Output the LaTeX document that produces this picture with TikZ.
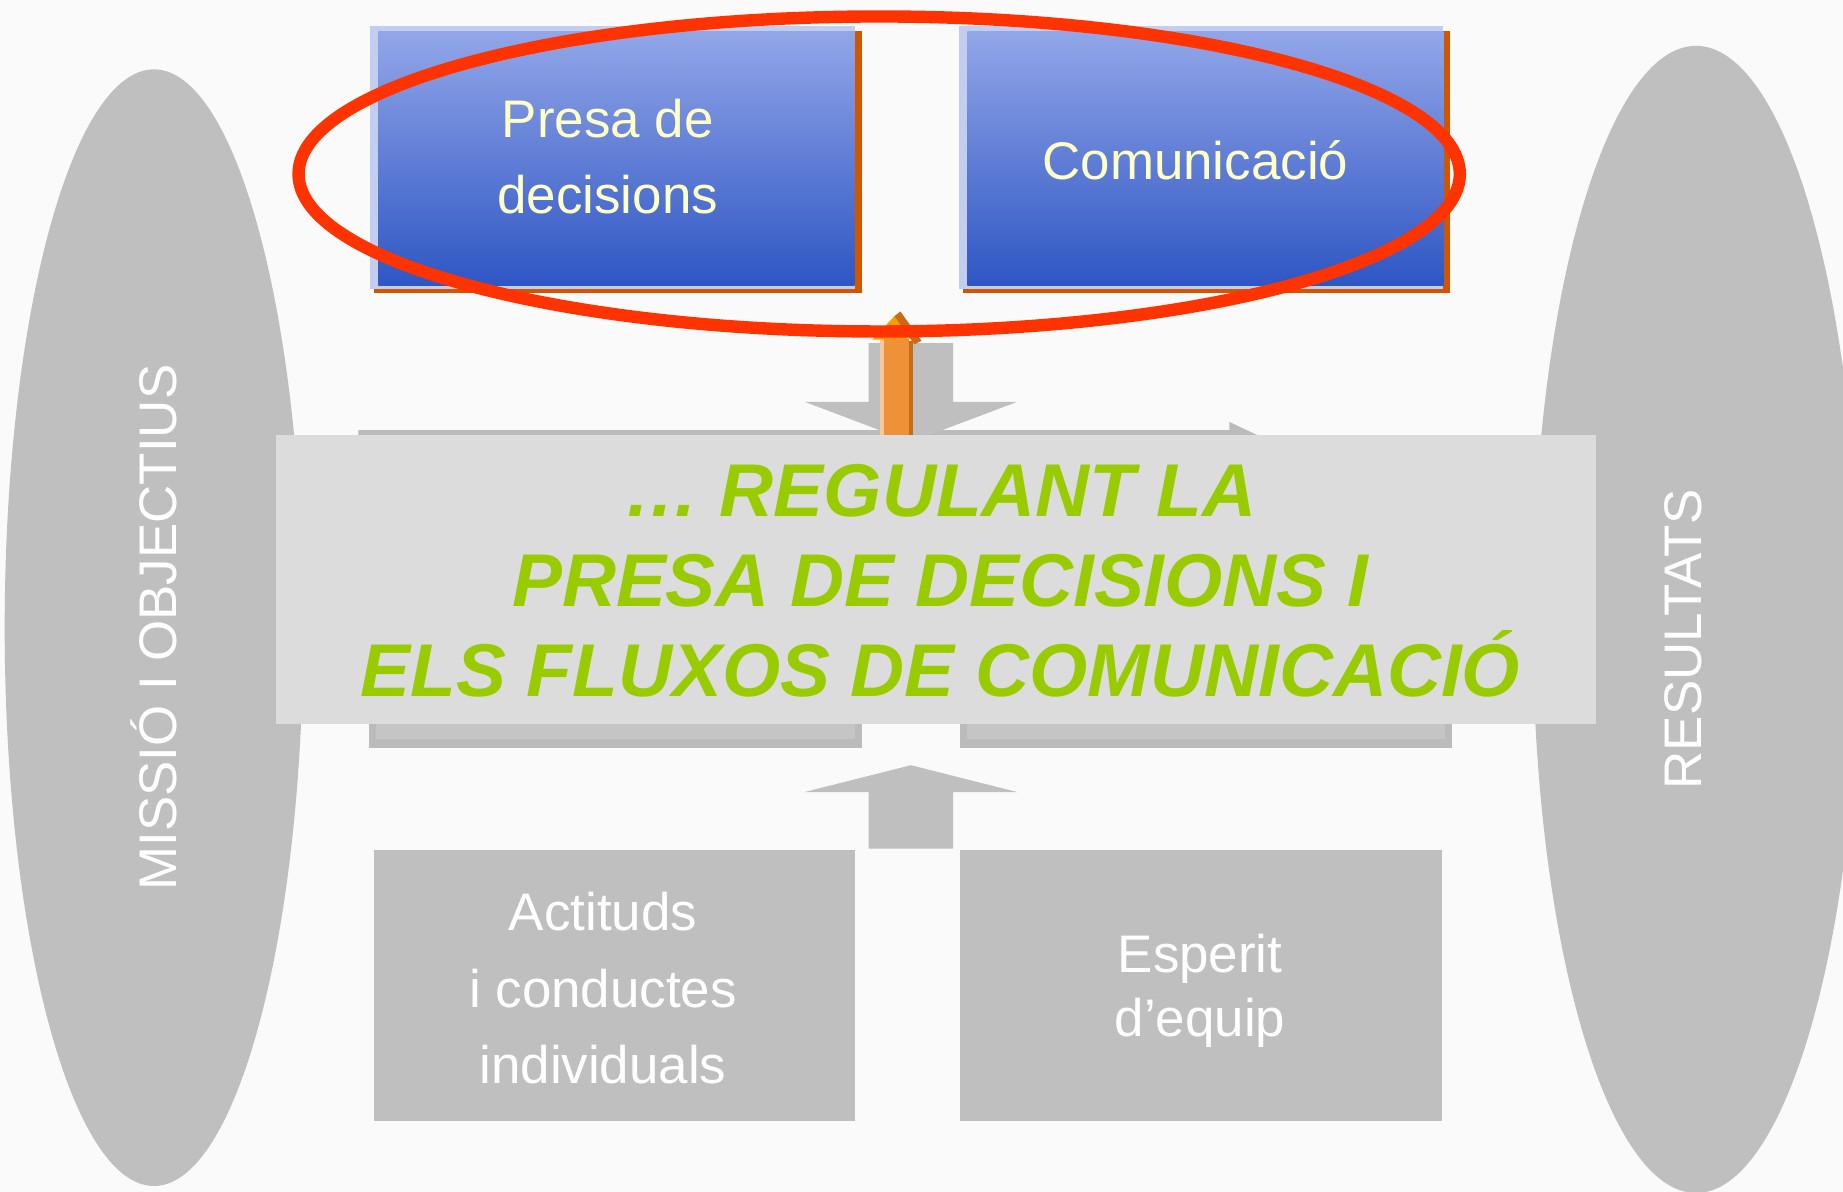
\documentclass[tikz,border=0pt]{standalone}
\usepackage{fontspec}
\setmainfont{Liberation Sans}
\definecolor{bg}{RGB}{250,250,250}
\definecolor{egg}{RGB}{191,191,191}
\definecolor{band}{RGB}{220,220,220}
\definecolor{hidgray}{RGB}{197,197,197}
\definecolor{hidedge}{RGB}{187,187,187}
\definecolor{bluetop}{RGB}{146,166,232}
\definecolor{bluebot}{RGB}{46,86,196}
\definecolor{bluelite}{RGB}{193,206,240}
\definecolor{rust}{RGB}{212,85,0}
\definecolor{ring}{RGB}{255,51,0}
\definecolor{lime}{RGB}{153,204,0}
\definecolor{cream}{RGB}{255,255,200}
\definecolor{orlite}{RGB}{250,200,160}
\definecolor{orarrow}{RGB}{238,145,55}
\definecolor{ordark}{RGB}{205,105,20}
\definecolor{orhead}{RGB}{245,160,0}
\begin{document}
\begin{tikzpicture}[line cap=round,line join=round,x=0.01cm,y=-0.01cm,
  lbl/.style={font=\fontsize{12.8}{18.5}\selectfont,inner sep=0pt,align=center},
  big/.style={font=\fontsize{18.1}{21.8}\selectfont\bfseries\itshape,text=lime,inner sep=0pt,align=center}]
\path
(0,0) coordinate (O)
(1568,1014) coordinate (E)
(131,534) coordinate (L)
(1443,527) coordinate (R)
(748,148) coordinate (M)
(235,370) coordinate (B1)
(1358,616) coordinate (B2)
;
\useasboundingbox (O) rectangle (E);
\clip (O) rectangle (E);
\fill[bg] (O) rectangle (E);
\fill[egg] (L) ellipse [x radius=127,y radius=475];
\fill[egg] (R) ellipse [x radius=139,y radius=488];
% hidden arrow and boxes behind the band
\fill[hidedge] (305,366)--(1046,366)--(1046,359)--(1080,375)--(305,375)--cycle;
\foreach \a/\b in {314/733,817/1235}{
\fill[hidedge] (\a,600) rectangle (\b,636);
\fill[hidgray] (\a+6,600) rectangle (\b-6,629);
}
\fill[egg] (739,292)--(811,292)--(811,342)--(865,342)--(775,376)--(685,342)--(739,342)--cycle;
% orange arrow
\fill[orlite] (749,288) rectangle (752,372);
\fill[orarrow] (752,288) rectangle (773,372);
\fill[ordark] (773,290) rectangle (777,372);
\fill[orhead] (742,289)--(761,269)--(778,288)--cycle;
\fill[ordark] (761,269)--(766,265)--(784,290)--(778,293)--cycle;
\fill[band] (B1) rectangle (B2);
% blue boxes
\foreach \a/\b in {322/727,823/1228}{
\fill[rust] (\a-4,26) rectangle (\b+6,249);
\fill[bluelite] (\a-7,22) rectangle (\b,246);
\shade[top color=bluetop,bottom color=bluebot] (\a,27) rectangle (\b,243);
}
\draw[ring,line width=3pt] (M) ellipse [x radius=494,y radius=134];
\fill[egg] (739,722)--(739,674)--(684,674)--(775,651)--(866,674)--(811,674)--(811,722)--cycle;
\foreach \a/\b in {318/727,817/1227}
\fill[egg] (\a,723) rectangle (\b,954);
% texts
\node[lbl,text=cream] (presa) at (517,133) {Presa de\\decisions};
\node[lbl,text=cream,anchor=base] (comu) at (1017,153) {Comunicació};
\node[big] (regula) at (800,494) {… REGULANT LA\\PRESA DE DECISIONS I\\ELS FLUXOS DE COMUNICACIÓ};
\node[lbl,text=white] (actituds) at (513,841) {Actituds\\i conductes\\individuals};
\node[lbl,text=white,font=\fontsize{12.8}{15.4}\selectfont] (esperit) at (1021,843) {Esperit\\d’equip};
\node[lbl,text=white,rotate=90,anchor=base] (missio) at (150,534) {MISSIÓ I OBJECTIUS};
\node[lbl,text=white,rotate=90,anchor=base] (result) at (1448,544) {RESULTATS};
\end{tikzpicture}
\end{document}
